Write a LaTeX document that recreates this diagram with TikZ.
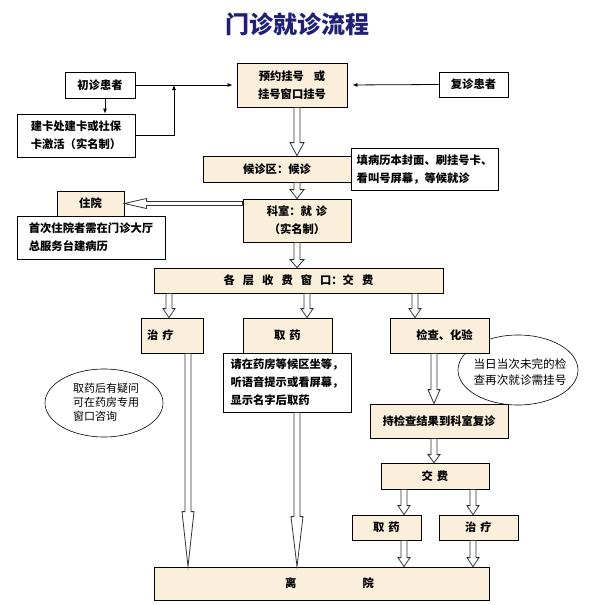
\documentclass[tikz,border=0pt]{standalone}
\usepackage{fontspec}
\newfontfamily\cjk{Noto Sans CJK SC}
\usetikzlibrary{calc,arrows.meta,shapes.geometric}
\definecolor{paper}{RGB}{249,239,219}
\definecolor{navy}{RGB}{32,32,120}
\tikzset{
  hshaft/.store in=\hshaft, hhead/.store in=\hhead, hlen/.store in=\hlen,
  hshaft=3pt, hhead=7pt, hlen=10pt,
  hollow/.style={draw=black!80, fill=white, line width=0.8pt, to path={
      ($(\tikztostart)!\hshaft!90:(\tikztotarget)$)
      -- ($(\tikztotarget)!\hlen!(\tikztostart)!\hshaft!90:(\tikztotarget)$)
      -- ($(\tikztotarget)!\hlen!(\tikztostart)!\hhead!90:(\tikztotarget)$)
      -- (\tikztotarget)
      -- ($(\tikztotarget)!\hlen!(\tikztostart)!\hhead!-90:(\tikztotarget)$)
      -- ($(\tikztotarget)!\hlen!(\tikztostart)!\hshaft!-90:(\tikztotarget)$)
      -- ($(\tikztostart)!\hshaft!-90:(\tikztotarget)$) -- cycle}},
  box/.style={draw, line width=0.8pt, fill=paper, inner sep=0pt,
    font=\cjk\bfseries\fontsize{11.3}{18}\selectfont},
  whitebox/.style={box, fill=white},
  note/.style={font=\cjk\fontsize{11}{14}\selectfont, align=left, inner sep=0pt},
  link/.style={line width=0.8pt, -{Latex[length=5pt,width=4pt]}}
}
\begin{document}
\begin{tikzpicture}[x=1pt,y=-1pt]
  \fill[white] (0,0) rectangle (593,605);
  \useasboundingbox (0,0) rectangle (593,605);
  \node[font=\cjk\bfseries\fontsize{24}{28}\selectfont, text=navy] (title) at (297,24) {门诊就诊流程};

  \node[note] (ya) at (106,402) {取药后有疑问\\可在药房专用\\窗口咨询};
  \draw[line width=0.6pt] (104,403) ellipse [x radius=59pt, y radius=34pt];
  \node[note, font=\cjk\fontsize{11.6}{16}\selectfont] (jz) at (520,372) {当日当次未完的检\\查再次就诊需挂号};
  \draw[line width=0.6pt] (518,370) ellipse [x radius=60pt, y radius=35pt];

  \node[whitebox, minimum width=70pt, minimum height=26pt] (cz) at (100,85) {初诊患者};
  \node[whitebox, minimum width=118pt, minimum height=43pt, align=left] (jk) at (76,135.5) {建卡处建卡或社保\\卡激活（实名制）};
  \node[box, minimum width=110pt, minimum height=44pt, align=center] (yy) at (292,85) {预约挂号\hspace{10pt}或\\挂号窗口挂号};
  \node[whitebox, minimum width=69pt, minimum height=25pt] (fz) at (473.5,84.5) {复诊患者};
  \node[box, minimum width=148pt, minimum height=26pt] (hz) at (277,169) {候诊区：候诊};
  \node[whitebox, minimum width=147pt, minimum height=42pt, align=left] (tb) at (424.5,169) {填病历本封面、刷挂号卡、\\看叫号屏幕，等候就诊};
  \node[box, minimum width=108pt, minimum height=43pt, align=center] (ks) at (297,220.5) {科室：就\hspace{4pt}诊\\（实名制）};
  \node[box, minimum width=67pt, minimum height=25pt] (zy) at (90.5,203.5) {住院};
  \node[whitebox, minimum width=148pt, minimum height=43pt, align=left] (sc) at (91,237.5) {首次住院者需在门诊大厅\\总服务台建病历};
  \node[box, minimum width=289pt, minimum height=25pt] (sf) at (298.5,280.5) {各\hspace{8pt}层\hspace{8pt}收\hspace{8pt}费\hspace{8pt}窗\hspace{8pt}口：交\hspace{8pt}费};
  \node[box, minimum width=62pt, minimum height=35pt, text width=50pt, align=left] (zl) at (172,335.5) {治\hspace{4pt}疗};
  \node[box, minimum width=89pt, minimum height=35pt] (qy) at (287.5,335.5) {取\hspace{4pt}药};
  \node[whitebox, minimum width=128pt, minimum height=59pt, align=left] (qd) at (287,382.5) {请在药房等候区坐等，\\听语音提示或看屏幕，\\显示名字后取药};
  \node[box, minimum width=99pt, minimum height=35pt] (jc) at (439.5,335.5) {\hspace{10pt}检查、化验};
  \node[box, minimum width=138pt, minimum height=34pt] (cj) at (439,421) {持检查结果到科室复诊};
  \node[box, minimum width=108pt, minimum height=26pt] (jf) at (435,476) {交\hspace{4pt}费};
  \node[box, minimum width=69pt, minimum height=25pt] (qyb) at (386.5,527.5) {取\hspace{4pt}药};
  \node[box, minimum width=79pt, minimum height=25pt] (zlb) at (478.5,527.5) {治\hspace{4pt}疗};
  \node[box, minimum width=335pt, minimum height=33pt] (ly) at (321.5,583.5) {\hspace{16pt}离\hspace{66pt}院};

  \coordinate (czout) at ([xshift=5pt]cz.south);
  \coordinate (jn) at (174,85);
  \draw[link] (czout) -- (czout |- jk.north);
  \draw[link] (jk.east) -| (jn);
  \draw[link, shorten >=4pt] (cz.east) -- (yy.west);
  \draw[link, shorten >=5pt] (fz.west) -- (yy.east);

  \draw[hollow, hlen=13pt] (yy.south -| ks.north) to (hz.north -| ks.north);
  \draw[hollow, hlen=9pt] (hz.south -| ks.north) to (ks.north);
  \draw[hollow, hshaft=2pt, hhead=5pt, hlen=22pt] (ks.west |- zy.east) to (zy.east);
  \draw[hollow, hlen=8pt] (ks.south) to (ks.south |- sf.north);

  \coordinate (zlin) at ([xshift=-3pt]zl.north);
  \coordinate (qyin) at ([xshift=19.5pt]qy.north);
  \coordinate (jcin) at ([xshift=-24.5pt]jc.north);
  \draw[hollow, hhead=6pt, hlen=9pt] (sf.south -| zlin) to (zlin);
  \draw[hollow, hhead=6pt, hlen=9pt] (sf.south -| qyin) to (qyin);
  \draw[hollow, hhead=6pt, hlen=9pt] (sf.south -| jcin) to (jcin);

  \coordinate (zlout) at ([xshift=16pt]zl.south);
  \coordinate (qdout) at ([xshift=10pt]qd.south);
  \draw[hollow, hhead=6pt, hlen=55pt] (zlout) to (zlout |- ly.north);
  \draw[hollow, hhead=6pt, hlen=50pt] (qdout) to (qdout |- ly.north);

  \coordinate (jcout) at ([xshift=-5.5pt]jc.south);
  \draw[hollow, hhead=6pt, hlen=14pt] (jcout) to (jcout |- cj.north);
  \draw[hollow, hhead=6pt, hlen=8pt] (jcout |- cj.south) to (jcout |- jf.north);

  \coordinate (qybin) at ([xshift=17.5pt]qyb.north);
  \coordinate (zlbin) at ([xshift=-5.5pt]zlb.north);
  \draw[hollow, hhead=6pt, hlen=9pt] (jf.south -| qybin) to (qybin);
  \draw[hollow, hhead=6pt, hlen=9pt] (jf.south -| zlbin) to (zlbin);
  \draw[hollow, hhead=6pt, hlen=9pt] (qybin |- qyb.south) to (qybin |- ly.north);
  \draw[hollow, hhead=6pt, hlen=9pt] (zlbin |- zlb.south) to (zlbin |- ly.north);
\end{tikzpicture}
\end{document}
